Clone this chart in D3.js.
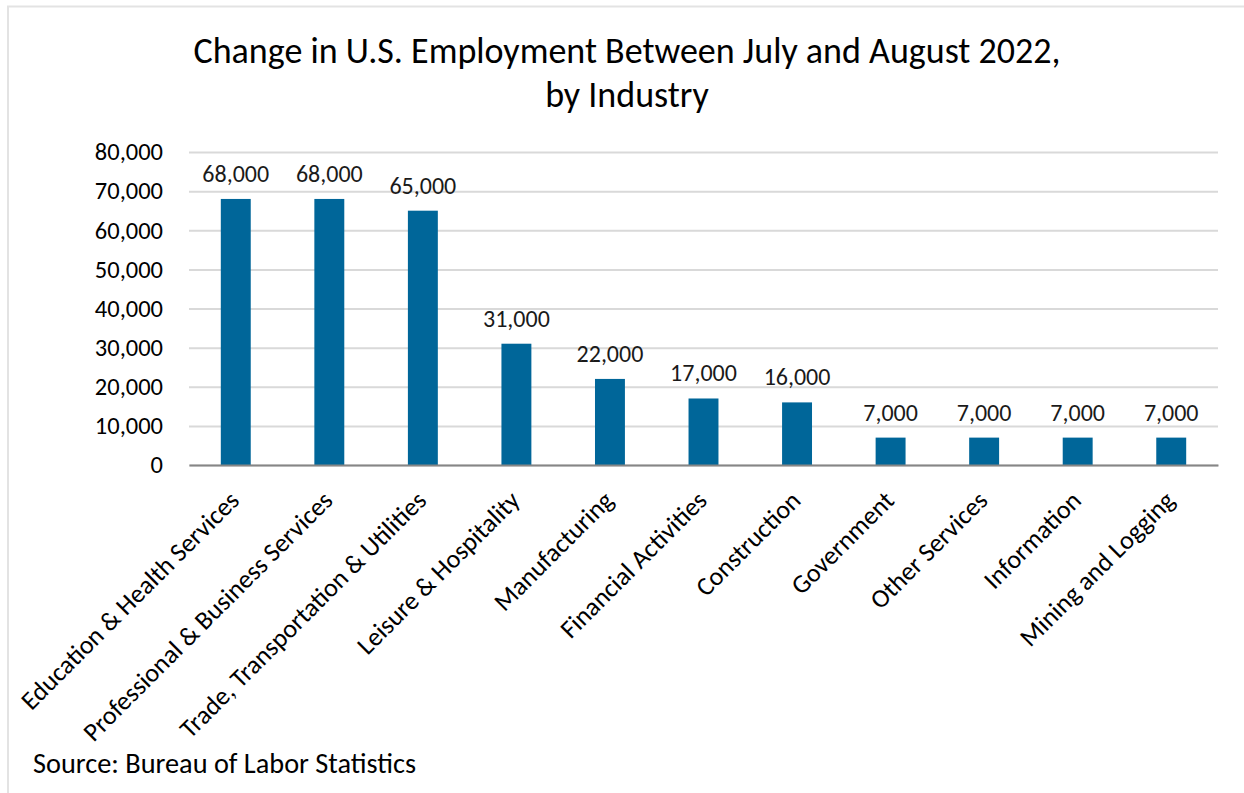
<!DOCTYPE html>
<html>
<head>
<meta charset="utf-8">
<script src="https://cdn.jsdelivr.net/npm/d3@7"></script>
<style>
  body { margin: 0; background: #fff; }
  svg { font-family: Carlito, Calibri, Lato, sans-serif; }
</style>
</head>
<body>
<svg width="1244" height="793"></svg>
<script>
const industries = [
	"Education & Health Services",
	"Professional & Business Services",
	"Trade, Transportation & Utilities",
	"Leisure & Hospitality",
	"Manufacturing",
	"Financial Activities",
	"Construction",
	"Government",
	"Other Services",
	"Information",
	"Mining and Logging"
];
const jobsAdded = [68000, 68000, 65000, 31000, 22000, 17000, 16000, 7000, 7000, 7000, 7000];
const yTicks = [0, 10000, 20000, 30000, 40000, 50000, 60000, 70000, 80000];
const titleLines = ["Change in U.S. Employment  Between July and August 2022,", "by Industry"];
const sourceNote = "Source: Bureau of Labor Statistics";

const svg = d3.select("svg");
const width = +svg.attr("width");
const height = +svg.attr("height");
const fontFamily = "Carlito, Calibri, Lato, sans-serif";

const data = industries.map((name, i) => ({ name, value: jobsAdded[i] }));

// chart frame (only top/left edges show in the original)
svg.append("path")
	.attr("d", `M8,${height} L8,6.5 L${width},6.5`)
	.attr("fill", "none")
	.attr("stroke", "#e3e3e3")
	.attr("stroke-width", 2);

const margin = { top: 152, right: 26, bottom: 328, left: 189 };
const innerWidth = width - margin.left - margin.right;
const innerHeight = height - margin.top - margin.bottom;

const xScale = d3.scaleBand()
	.domain(industries)
	.range([0, innerWidth])
	.paddingInner(0.68)
	.paddingOuter(0.34);

const yScale = d3.scaleLinear()
	.domain([0, 80000])
	.range([innerHeight, 0]);

const g = svg.append("g")
	.attr("transform", `translate(${margin.left},${margin.top})`);

// gridlines + y labels
const yAxis = d3.axisLeft(yScale)
	.tickValues(yTicks)
	.tickFormat(d3.format(","))
	.tickSize(-innerWidth)
	.tickPadding(26);

const yAxisG = g.append("g").call(yAxis);
yAxisG.select(".domain").remove();
yAxisG.selectAll(".tick line").attr("stroke", "#d9d9d9").attr("stroke-width", 2);
yAxisG.selectAll(".tick text")
	.attr("fill", "#000")
	.attr("font-size", 24.5)
	.attr("font-family", fontFamily);

// bars
g.selectAll("rect.bar").data(data)
	.enter().append("rect")
		.attr("class", "bar")
		.attr("x", d => xScale(d.name))
		.attr("y", d => yScale(d.value))
		.attr("width", xScale.bandwidth())
		.attr("height", d => innerHeight - yScale(d.value))
		.attr("fill", "#006699");

// value labels
g.selectAll("text.value").data(data)
	.enter().append("text")
		.attr("class", "value")
		.attr("x", d => xScale(d.name) + xScale.bandwidth() / 2)
		.attr("y", d => yScale(d.value) - 17)
		.attr("text-anchor", "middle")
		.attr("font-size", 24)
		.attr("fill", "#1a1a1a")
		.text(d => d3.format(",")(d.value));

// x axis
const xAxis = d3.axisBottom(xScale).tickSize(0).tickPadding(0);
const xAxisG = g.append("g")
	.attr("transform", `translate(0,${innerHeight})`)
	.call(xAxis);
xAxisG.select(".domain").attr("stroke", "#868686").attr("stroke-width", 2);
xAxisG.selectAll(".tick text")
	.attr("font-size", 26)
	.attr("font-family", fontFamily)
	.attr("fill", "#000")
	.attr("text-anchor", "end")
	.attr("dy", 0)
	.attr("y", 0)
	.attr("transform", "translate(5,37) rotate(-45)");

// title
svg.append("text")
	.attr("text-anchor", "middle")
	.attr("font-size", 36)
	.attr("fill", "#000")
	.selectAll("tspan").data(titleLines)
	.enter().append("tspan")
		.attr("x", 627)
		.attr("y", (d, i) => 63 + i * 44)
		.text(d => d);

svg.append("text")
	.attr("x", 33)
	.attr("y", 773)
	.attr("font-size", 28.3)
	.attr("fill", "#000")
	.text(sourceNote);
</script>
</body>
</html>
